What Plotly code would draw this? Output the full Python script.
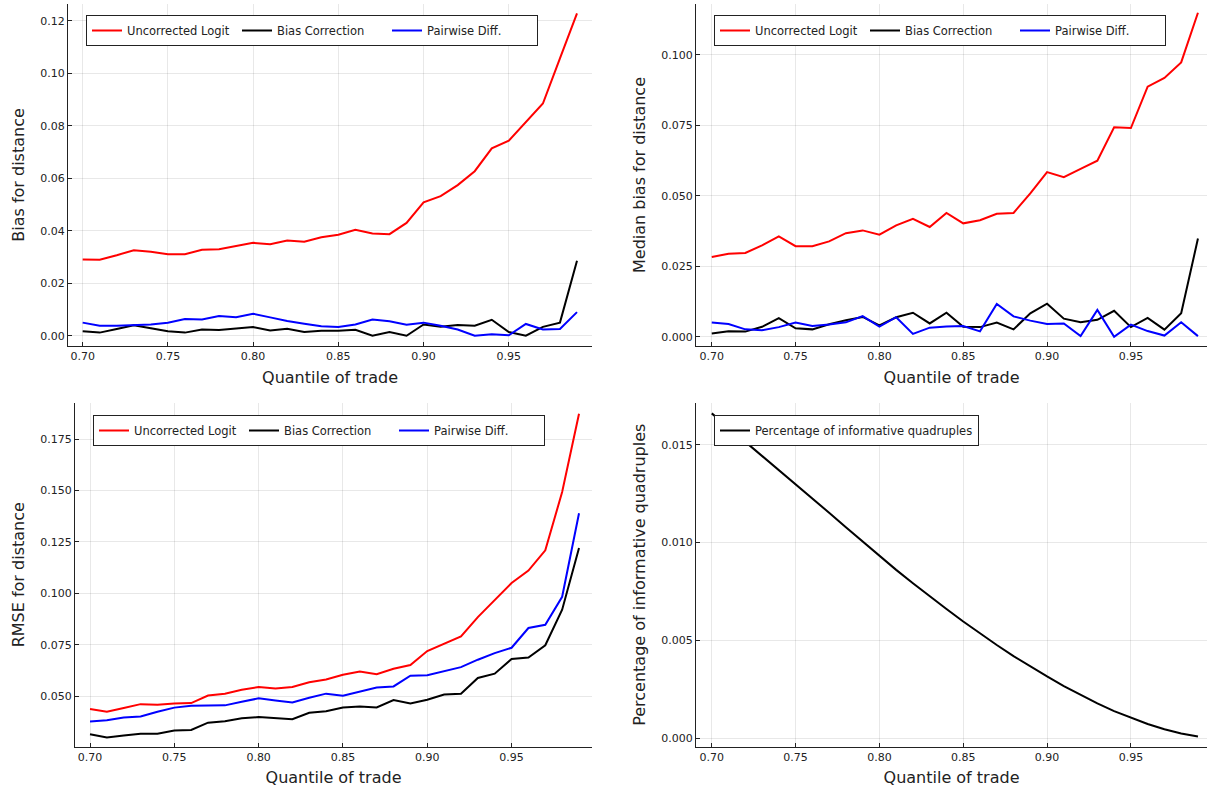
import plotly.graph_objects as go

# ---------------- data ----------------
quantile = [0.70, 0.71, 0.72, 0.73, 0.74, 0.75, 0.76, 0.77, 0.78, 0.79,
            0.80, 0.81, 0.82, 0.83, 0.84, 0.85, 0.86, 0.87, 0.88, 0.89,
            0.90, 0.91, 0.92, 0.93, 0.94, 0.95, 0.96, 0.97, 0.98, 0.99]

series_names = ["Uncorrected Logit", "Bias Correction", "Pairwise Diff."]

bias_uncorrected = [0.0291, 0.0290, 0.0307, 0.0326, 0.0320, 0.0311, 0.0311, 0.0328, 0.0330, 0.0343,
                    0.0354, 0.0349, 0.0363, 0.0358, 0.0375, 0.0385, 0.0404, 0.0390, 0.0387, 0.0430,
                    0.0508, 0.0532, 0.0574, 0.0627, 0.0714, 0.0743, 0.0815, 0.0885, 0.1057, 0.1228]
bias_correction = [0.0017, 0.0012, 0.0026, 0.0040, 0.0029, 0.0017, 0.0012, 0.0024, 0.0022, 0.0028,
                   0.0033, 0.0020, 0.0027, 0.0014, 0.0019, 0.0019, 0.0023, 0.0000, 0.0014, 0.0000,
                   0.0043, 0.0034, 0.0041, 0.0038, 0.0061, 0.0014, 0.0000, 0.0034, 0.0050, 0.0286]
bias_pairwise = [0.0050, 0.0038, 0.0038, 0.0040, 0.0043, 0.0050, 0.0064, 0.0062, 0.0075, 0.0071,
                 0.0084, 0.0070, 0.0056, 0.0046, 0.0036, 0.0033, 0.0043, 0.0062, 0.0055, 0.0042,
                 0.0050, 0.0038, 0.0024, 0.0000, 0.0006, 0.0002, 0.0045, 0.0024, 0.0026, 0.0090]

median_uncorrected = [0.0283, 0.0294, 0.0297, 0.0324, 0.0356, 0.0321, 0.0321, 0.0338, 0.0367, 0.0377,
                      0.0362, 0.0395, 0.0418, 0.0389, 0.0439, 0.0402, 0.0413, 0.0436, 0.0439, 0.0508,
                      0.0584, 0.0566, 0.0595, 0.0624, 0.0743, 0.0740, 0.0887, 0.0918, 0.0973, 0.1149]
median_correction = [0.0011, 0.0019, 0.0018, 0.0035, 0.0066, 0.0030, 0.0026, 0.0044, 0.0058, 0.0070,
                     0.0040, 0.0069, 0.0085, 0.0047, 0.0085, 0.0035, 0.0034, 0.0050, 0.0026, 0.0083,
                     0.0117, 0.0064, 0.0051, 0.0060, 0.0092, 0.0034, 0.0067, 0.0025, 0.0083, 0.0348]
median_pairwise = [0.0050, 0.0045, 0.0026, 0.0023, 0.0034, 0.0050, 0.0038, 0.0043, 0.0051, 0.0073,
                   0.0036, 0.0069, 0.0010, 0.0032, 0.0036, 0.0038, 0.0019, 0.0116, 0.0072, 0.0057,
                   0.0045, 0.0047, 0.0002, 0.0095, 0.0000, 0.0043, 0.0020, 0.0004, 0.0051, 0.0002]

rmse_uncorrected = [0.0437, 0.0424, 0.0442, 0.0461, 0.0458, 0.0464, 0.0466, 0.0503, 0.0512, 0.0531,
                    0.0544, 0.0537, 0.0544, 0.0567, 0.0581, 0.0604, 0.0620, 0.0606, 0.0633, 0.0651,
                    0.0719, 0.0756, 0.0790, 0.0884, 0.0966, 0.1050, 0.1110, 0.1209, 0.1492, 0.1873]
rmse_correction = [0.0315, 0.0299, 0.0309, 0.0317, 0.0317, 0.0333, 0.0335, 0.0371, 0.0378, 0.0392,
                   0.0398, 0.0393, 0.0388, 0.0419, 0.0426, 0.0445, 0.0450, 0.0445, 0.0481, 0.0464,
                   0.0482, 0.0508, 0.0511, 0.0588, 0.0609, 0.0680, 0.0688, 0.0747, 0.0920, 0.1220]
rmse_pairwise = [0.0377, 0.0383, 0.0396, 0.0401, 0.0424, 0.0444, 0.0453, 0.0453, 0.0455, 0.0473,
                 0.0489, 0.0479, 0.0469, 0.0492, 0.0512, 0.0502, 0.0523, 0.0542, 0.0547, 0.0599,
                 0.0602, 0.0622, 0.0641, 0.0677, 0.0709, 0.0735, 0.0831, 0.0847, 0.0983, 0.1389]

informative_share = [0.01660, 0.01588, 0.01516, 0.01444, 0.01372, 0.01300, 0.01226, 0.01152, 0.01078, 0.01004,
                     0.00930, 0.00860, 0.00792, 0.00725, 0.00660, 0.00596, 0.00535, 0.00476, 0.00419, 0.00365,
                     0.00315, 0.00266, 0.00220, 0.00177, 0.00138, 0.00103, 0.00072, 0.00045, 0.00023, 0.00008]

x_ticks = [0.70, 0.75, 0.80, 0.85, 0.90, 0.95]

# ---------------- layout helpers ----------------
W, H = 1209, 790
FONT = "DejaVu Sans"
INK = "#222222"
colors = ["rgb(255,0,0)", "rgb(0,0,0)", "rgb(0,0,255)"]


def dom_x(left, right):
    return [left / W, right / W]


def dom_y(top, bottom):
    return [1 - bottom / H, 1 - top / H]


def axis(domain, rng, anchor, title, fmt, standoff, dtick, tick0=0.0):
    return dict(
        domain=domain, range=rng, anchor=anchor,
        showline=True, linecolor=INK, linewidth=1, mirror=False,
        ticks="inside", ticklen=4, tickcolor=INK, tickwidth=1,
        showgrid=True, gridcolor="rgba(0,0,0,0.09)", gridwidth=1,
        zeroline=False, tickformat=fmt, tickmode="linear", dtick=dtick, tick0=tick0,
        tickfont=dict(family=FONT, size=11, color=INK),
        title=dict(text=title, font=dict(family=FONT, size=16, color=INK), standoff=standoff),
    )


fig = go.Figure()

panels = [
    ("x", "y", "legend", [bias_uncorrected, bias_correction, bias_pairwise]),
    ("x2", "y2", "legend2", [median_uncorrected, median_correction, median_pairwise]),
    ("x3", "y3", "legend3", [rmse_uncorrected, rmse_correction, rmse_pairwise]),
]
for xa, ya, lg, ys in panels:
    for name, col, yv in zip(series_names, colors, ys):
        fig.add_trace(go.Scatter(x=quantile, y=yv, mode="lines", name=name,
                                 line=dict(color=col, width=2),
                                 xaxis=xa, yaxis=ya, legend=lg))

fig.add_trace(go.Scatter(x=quantile, y=informative_share, mode="lines",
                         name="Percentage of informative quadruples",
                         line=dict(color="rgb(0,0,0)", width=2),
                         xaxis="x4", yaxis="y4", legend="legend4"))

L_left, L_right = 68, 592
R_left, R_right = 696, 1207
T_top, T_bot = 4, 346
B_top, B_bot = 403, 746.5
XT = "Quantile of trade"

fig.update_layout(
    xaxis=axis(dom_x(L_left, L_right), [0.6914, 0.9988], "y", XT, ".2f", 9, 0.05, 0.70),
    yaxis=axis(dom_y(T_top, T_bot), [-0.0039, 0.1264], "x", "Bias for distance", ".2f", 11, 0.02),
    xaxis2=axis(dom_x(R_left, R_right), [0.6906, 0.9954], "y2", XT, ".2f", 9, 0.05, 0.70),
    yaxis2=axis(dom_y(T_top, T_bot), [-0.0033, 0.118], "x2", "Median bias for distance", ".3f", 11, 0.025),
    xaxis3=axis(dom_x(75, L_right), [0.6911, 0.9977], "y3", XT, ".2f", 9, 0.05, 0.70),
    yaxis3=axis(dom_y(B_top, B_bot), [0.0255, 0.1925], "x3", "RMSE for distance", ".3f", 11, 0.025),
    xaxis4=axis(dom_x(R_left, R_right), [0.6906, 0.9954], "y4", XT, ".2f", 9, 0.05, 0.70),
    yaxis4=axis(dom_y(B_top, B_bot), [-0.00043, 0.01713], "x4",
                "Percentage of informative quadruples", ".3f", 11, 0.005),
)


def legend_box(left, top, entry=None):
    d = dict(x=left / W, y=1 - top / H, xanchor="left", yanchor="top",
             orientation="h", bgcolor="white", bordercolor=INK, borderwidth=1,
             font=dict(family=FONT, size=11.5, color=INK), itemwidth=30)
    if entry is not None:
        d["entrywidth"] = entry
        d["entrywidthmode"] = "pixels"
    return d


fig.update_layout(
    legend=legend_box(86, 15, 105),
    legend2=legend_box(714, 15, 105),
    legend3=legend_box(93, 415, 105),
    legend4=legend_box(714, 415),
    width=W, height=H,
    margin=dict(l=0, r=0, t=0, b=0),
    paper_bgcolor="white", plot_bgcolor="white",
    font=dict(family=FONT, size=11, color=INK),
    showlegend=True,
)

fig.write_html("out.html", config={"displayModeBar": False},
               post_script="document.body.style.margin='0';")
